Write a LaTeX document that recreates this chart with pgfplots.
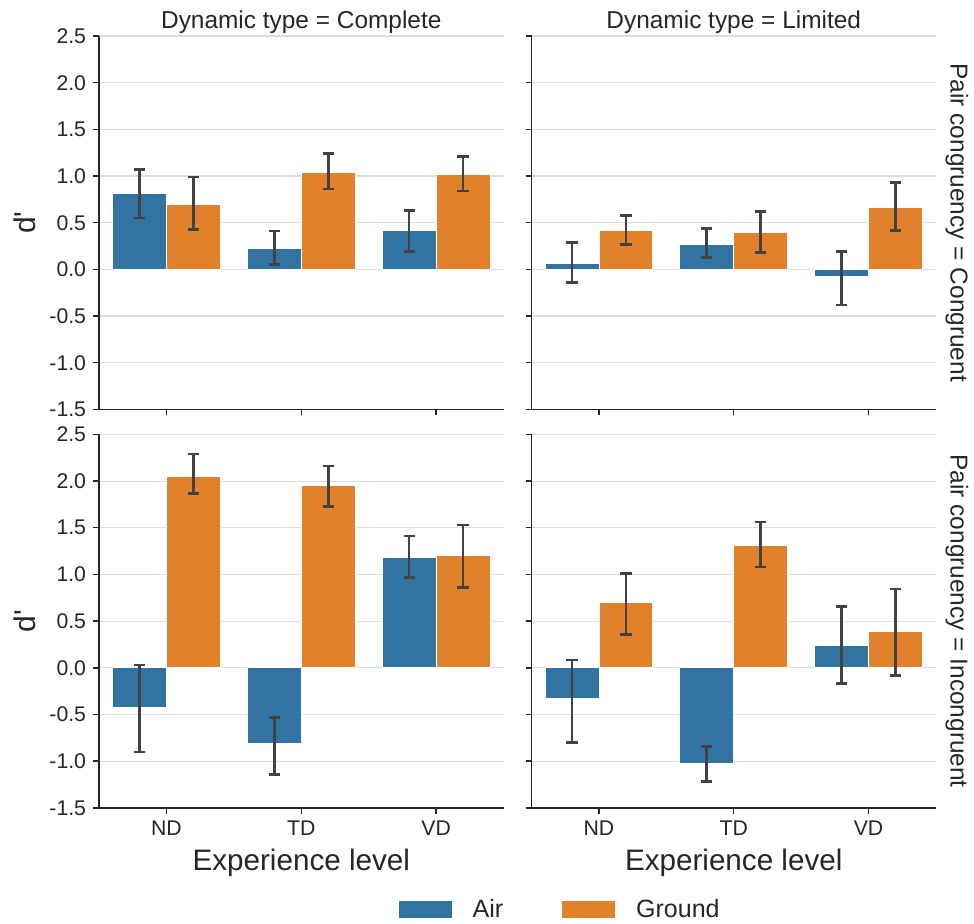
\documentclass[border=0pt]{standalone}
\usepackage{pgfplots}
\pgfplotsset{compat=1.18}
\usepackage{pgfplotstable}
\usepgfplotslibrary{groupplots}
\usepackage{fontspec}
\setmainfont{Liberation Sans}

\definecolor{air}{HTML}{3274A1}
\definecolor{ground}{HTML}{E1812C}
\definecolor{txt}{HTML}{262626}
\definecolor{errc}{HTML}{424242}
\definecolor{gridc}{HTML}{DCDCDC}

% x: 0 = ND, 1 = TD, 2 = VD ; y = mean d', lo/hi = ends of the error bar
\pgfplotstableread{
x y lo hi
0 0.81 0.55 1.07
1 0.225 0.05 0.41
2 0.42 0.19 0.63
}\airCompCong
\pgfplotstableread{
x y lo hi
0 0.70 0.43 0.99
1 1.04 0.86 1.24
2 1.02 0.84 1.21
}\groundCompCong
\pgfplotstableread{
x y lo hi
0 0.065 -0.14 0.29
1 0.27 0.125 0.44
2 -0.07 -0.38 0.19
}\airLimCong
\pgfplotstableread{
x y lo hi
0 0.42 0.265 0.575
1 0.40 0.18 0.62
2 0.66 0.415 0.93
}\groundLimCong
\pgfplotstableread{
x y lo hi
0 -0.42 -0.90 0.03
1 -0.81 -1.14 -0.53
2 1.18 0.965 1.41
}\airCompIncong
\pgfplotstableread{
x y lo hi
0 2.05 1.87 2.29
1 1.955 1.73 2.16
2 1.20 0.86 1.53
}\groundCompIncong
\pgfplotstableread{
x y lo hi
0 -0.33 -0.80 0.085
1 -1.02 -1.215 -0.84
2 0.236 -0.165 0.655
}\airLimIncong
\pgfplotstableread{
x y lo hi
0 0.70 0.36 1.01
1 1.315 1.08 1.56
2 0.386 -0.08 0.844
}\groundLimIncong

\pgfplotsset{
  table/errtab/.style={x=x, y=y,
    y error plus expr=\thisrow{hi}-\thisrow{y},
    y error minus expr=\thisrow{y}-\thisrow{lo}},
}

\begin{document}
\begin{tikzpicture}
\begin{groupplot}[
  group style={group size=2 by 2, horizontal sep=14pt, vertical sep=12.5pt,
    xticklabels at=edge bottom, yticklabels at=edge left,
    xlabels at=edge bottom, ylabels at=edge left},
  scale only axis, width=202pt, height=186.5pt,
  ybar=0pt, /pgf/bar width=0.4,
  xmin=-0.5, xmax=2.5, ymin=-1.5, ymax=2.5,
  xtick={0,1,2}, xticklabels={ND,TD,VD},
  ytick={-1.5,-1,-0.5,0,0.5,1,1.5,2,2.5},
  axis x line*=bottom, axis y line*=left,
  axis line style={txt, line width=0.7pt},
  tick style={txt, line width=0.7pt}, major tick length=3pt, tick align=outside,
  ymajorgrids, major grid style={gridc, line width=0.6pt},
  tick label style={font=\fontsize{10.6}{12}\selectfont, text=txt},
  label style={text=txt},
  xlabel={Experience level}, ylabel={d\textquotesingle},
  xlabel style={font=\fontsize{14.8}{17}\selectfont},
  ylabel style={font=\fontsize{15}{17}\selectfont},
  every axis title shift=0pt,
  title style={font=\fontsize{12.2}{14}\selectfont, text=txt, at={(0.5,1)}, anchor=base, yshift=4pt},
  legend image code/.code={\fill[#1] (0pt,-4.5pt) rectangle (27pt,4.5pt);},
  error bars/y dir=both, error bars/y explicit,
  error bars/error bar style={errc, line width=1.3pt},
  error bars/error mark options={errc, line width=1.3pt, mark size=2.8pt, rotate=90},
  /pgf/number format/fixed, /pgf/number format/fixed zerofill,
  /pgf/number format/precision=1, /pgf/number format/assume math mode=true,
]
\nextgroupplot[title={Dynamic type = Complete}]
\addplot[fill=air, draw=white, line width=0.4pt] table[errtab] {\airCompCong};
\addplot[fill=ground, draw=white, line width=0.4pt] table[errtab] {\groundCompCong};

\nextgroupplot[title={Dynamic type = Limited},
  extra description/.code={\node[rotate=-90, font=\fontsize{12.2}{14}\selectfont, text=txt]
    at ([xshift=10.5pt]rel axis cs:1,0.5) {Pair congruency = Congruent};}]
\addplot[fill=air, draw=white, line width=0.4pt] table[errtab] {\airLimCong};
\addplot[fill=ground, draw=white, line width=0.4pt] table[errtab] {\groundLimCong};

\nextgroupplot
\addplot[fill=air, draw=white, line width=0.4pt] table[errtab] {\airCompIncong};
\addplot[fill=ground, draw=white, line width=0.4pt] table[errtab] {\groundCompIncong};

\nextgroupplot[
  extra description/.code={\node[rotate=-90, font=\fontsize{12.2}{14}\selectfont, text=txt]
    at ([xshift=10.5pt]rel axis cs:1,0.5) {Pair congruency = Incongruent};},
  legend style={at={(axis description cs:0.072,-0.273)}, anchor=center, draw=none, fill=none,
    font=\fontsize{12.5}{15}\selectfont, text=txt, legend columns=2,
    /tikz/every odd column/.append style={column sep=8pt},
    /tikz/every even column/.append style={column sep=27pt}},
  legend cell align=left]
\addplot[fill=air, draw=white, line width=0.4pt] table[errtab] {\airLimIncong};
\addlegendentry{Air}
\addplot[fill=ground, draw=white, line width=0.4pt] table[errtab] {\groundLimIncong};
\addlegendentry{Ground}
\end{groupplot}
\pgfresetboundingbox
\path ([xshift=-49.5pt,yshift=18pt]group c1r1.north west) rectangle ([xshift=19pt,yshift=-58pt]group c2r2.south east);
\end{tikzpicture}
\end{document}
